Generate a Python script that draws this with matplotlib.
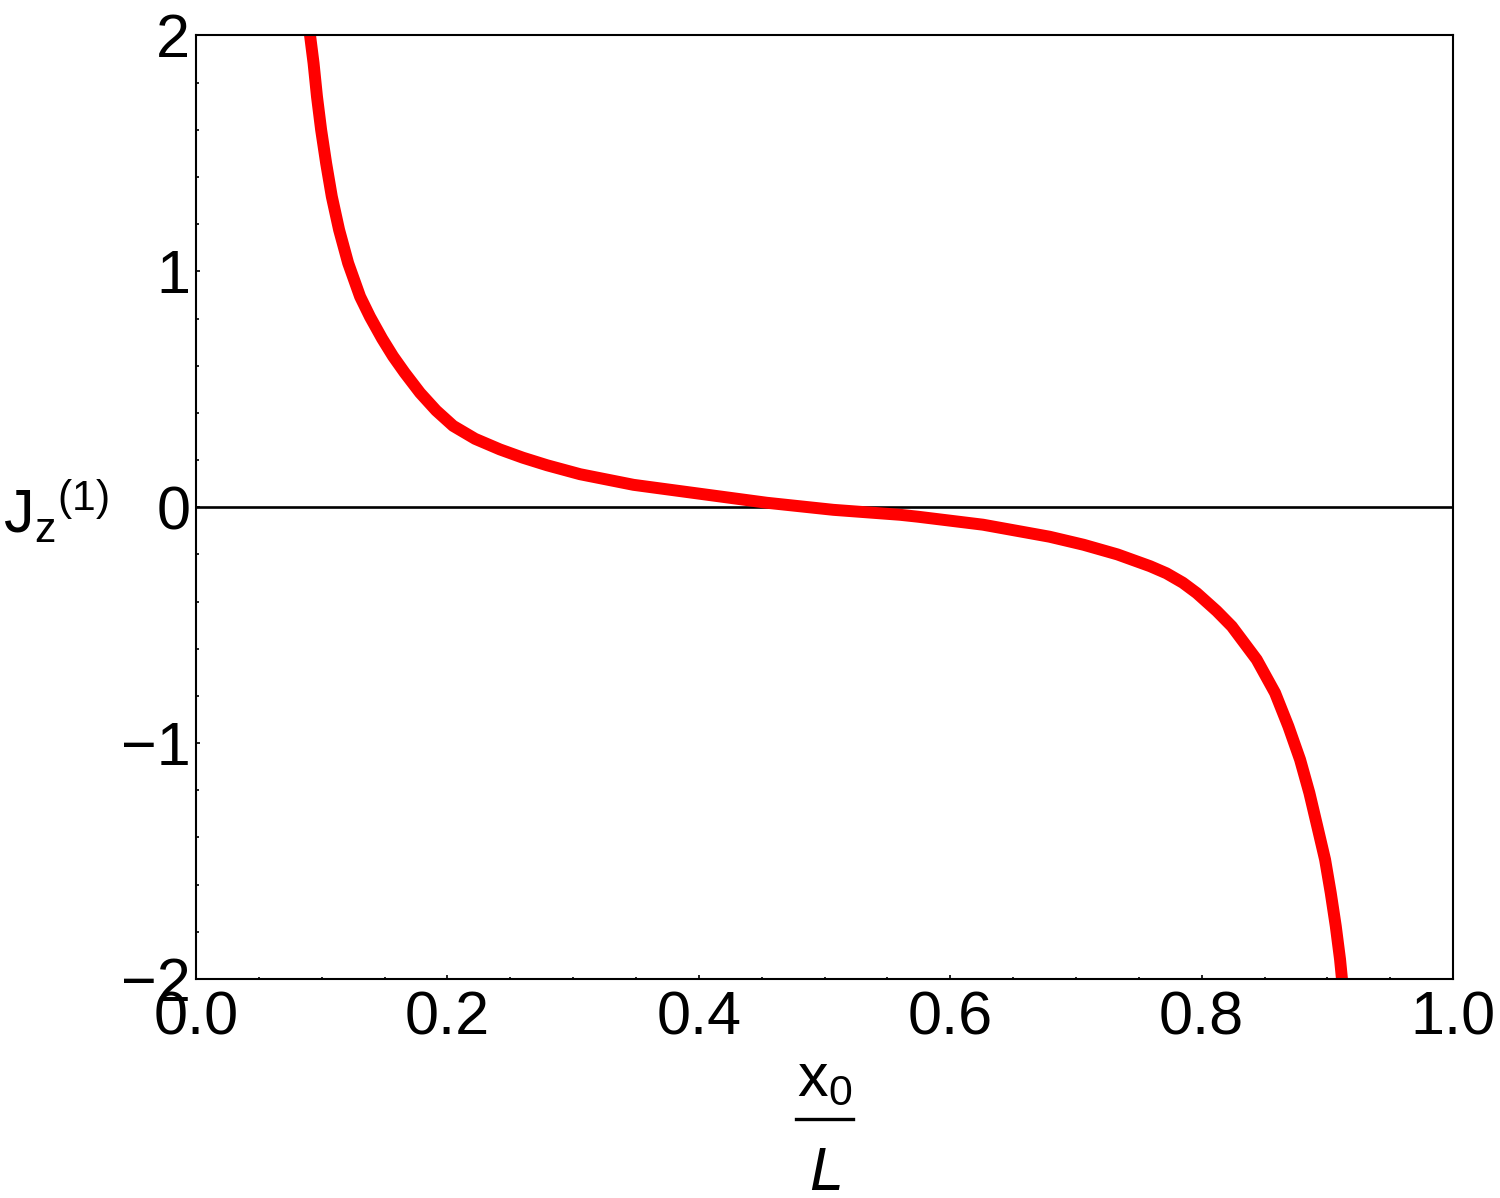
import numpy as np
import matplotlib.pyplot as plt
from matplotlib.ticker import MultipleLocator
from matplotlib.lines import Line2D

plt.rcParams['font.family'] = ['Liberation Sans', 'DejaVu Sans']
plt.rcParams['mathtext.fontset'] = 'custom'
plt.rcParams['mathtext.rm'] = 'Liberation Sans'
plt.rcParams['mathtext.it'] = 'Liberation Sans:italic'

# values (x0/L, Jz^(1))
x0_over_L = [0.0838, 0.0907, 0.0935, 0.0962, 0.0995, 0.1035, 0.1080, 0.1138,
             0.1210, 0.1305, 0.1384, 0.1480, 0.1567, 0.1660, 0.1782, 0.1910,
             0.2045, 0.2220, 0.2418, 0.2600, 0.2792, 0.3055, 0.3480, 0.4010,
             0.4540, 0.5070, 0.5600, 0.5740, 0.6260, 0.6790, 0.7060, 0.7330,
             0.7590, 0.7720, 0.7850, 0.7961, 0.8120, 0.8240, 0.8438, 0.8584,
             0.8690, 0.8783, 0.8857, 0.8920, 0.8982, 0.9027, 0.9067, 0.9101,
             0.9115, 0.9170]
jz1 = [2.30, 2.00, 1.882, 1.741, 1.600, 1.458, 1.317, 1.176,
       1.035, 0.893, 0.807, 0.715, 0.640, 0.570, 0.485, 0.410,
       0.345, 0.290, 0.245, 0.210, 0.178, 0.140, 0.095, 0.057,
       0.019, -0.011, -0.032, -0.040, -0.074, -0.125, -0.159, -0.200,
       -0.250, -0.280, -0.320, -0.364, -0.440, -0.505, -0.646, -0.787,
       -0.929, -1.070, -1.211, -1.353, -1.494, -1.635, -1.776, -1.917,
       -1.993, -2.300]

x_ticks = [0.0, 0.2, 0.4, 0.6, 0.8, 1.0]
x_labels = ['0.0', '0.2', '0.4', '0.6', '0.8', '1.0']
y_ticks = [-2, -1, 0, 1, 2]
y_labels = ['\u22122', '\u22121', '0', '1', '2']

fig = plt.figure(figsize=(15, 11.98), dpi=100)
ax = fig.add_axes([0.1307, 0.1828, 0.8380, 0.7876])

ax.axhline(0, color='black', linewidth=1.9, zorder=1)
ax.plot(x0_over_L, jz1, color='#ff0000', linewidth=8.6,
        solid_capstyle='butt', solid_joinstyle='round', zorder=2)

ax.set_xlim(0, 1)
ax.set_ylim(-2, 2)
ax.set_xticks(x_ticks)
ax.set_xticklabels(x_labels)
ax.set_yticks(y_ticks)
ax.set_yticklabels(y_labels)
ax.xaxis.set_minor_locator(MultipleLocator(0.05))
ax.yaxis.set_minor_locator(MultipleLocator(0.2))

ax.tick_params(which='both', direction='in', top=False, right=False,
               labelsize=44, width=1.2, color='black')
ax.tick_params(which='major', length=3.2)
ax.tick_params(which='minor', length=1.8)
ax.tick_params(axis='x', pad=8)
ax.tick_params(axis='y', pad=4)
for sp in ax.spines.values():
    sp.set_linewidth(1.5)

# y label: J_z^(1)
fig.text(0.002, 1 - 533 / 1198, r'$\mathregular{J_z{}^{(1)}}$', fontsize=44,
         ha='left', va='baseline')

# x label: fraction x0 / L
fig.text(824.5 / 1500, 1 - 1095 / 1198, r'$\mathregular{x_0}$', fontsize=44,
         ha='center', va='baseline')
fig.add_artist(Line2D([796 / 1500, 853 / 1500], [1 - 1119 / 1198] * 2,
                      transform=fig.transFigure, color='black', linewidth=2.4))
fig.text(824.5 / 1500, 1 - 1190 / 1198, r'$L$', fontsize=44,
         ha='center', va='baseline')

fig.savefig('out.png', dpi=100)
